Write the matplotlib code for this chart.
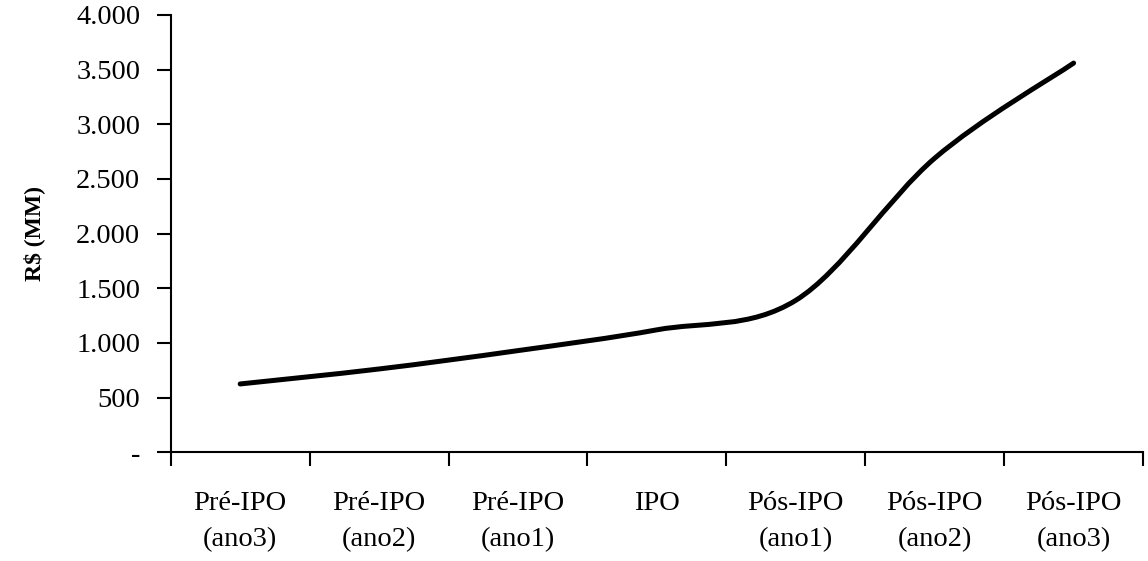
import matplotlib.pyplot as plt
import numpy as np
from matplotlib.path import Path
from matplotlib.patches import PathPatch
from matplotlib.ticker import FuncFormatter

periodos = ["Pré-IPO\n(ano3)", "Pré-IPO\n(ano2)", "Pré-IPO\n(ano1)", "IPO",
            "Pós-IPO\n(ano1)", "Pós-IPO\n(ano2)", "Pós-IPO\n(ano3)"]
valores = [625, 762, 930, 1120, 1390, 2690, 3560]
y_ticks = [0, 500, 1000, 1500, 2000, 2500, 3000, 3500, 4000]

plt.rcParams['font.family'] = ['Liberation Serif', 'DejaVu Serif']


def smooth_path(x, y, t=1 / 6):
    # cubic Bezier through the points, control points from neighbour slopes
    pts = np.column_stack([x, y]).astype(float)
    verts = [pts[0]]
    codes = [Path.MOVETO]
    n = len(pts)
    for i in range(n - 1):
        p0 = pts[i - 1] if i > 0 else pts[i]
        p1 = pts[i]
        p2 = pts[i + 1]
        p3 = pts[i + 2] if i + 2 < n else pts[i + 1]
        c1 = p1 + (p2 - p0) * t
        c2 = p2 - (p3 - p1) * t
        verts += [c1, c2, p2]
        codes += [Path.CURVE4] * 3
    return Path(verts, codes)


fig = plt.figure(figsize=(11.48, 5.61), dpi=100)
ax = fig.add_axes([0.1487, 0.1938, 0.8470, 0.7795])

x = np.arange(len(periodos))
ax.add_patch(PathPatch(smooth_path(x, valores), facecolor='none',
                       edgecolor='black', linewidth=3.6, capstyle='round'))

ax.set_xlim(-0.5, len(periodos) - 0.5)
ax.set_ylim(0, 4000)

ax.set_yticks(y_ticks)
ax.yaxis.set_major_formatter(FuncFormatter(
    lambda v, _: "-" if v == 0 else f"{int(v):,}".replace(",", ".")))

ax.set_xticks(x)
ax.set_xticklabels(periodos, linespacing=1.55)
ax.set_xticks(np.arange(len(periodos) + 1) - 0.5, minor=True)
ax.tick_params(axis='x', which='major', length=0, pad=28, labelsize=20.5)
ax.tick_params(axis='x', which='minor', length=10, width=1.5, direction='out')
ax.tick_params(axis='y', length=10, width=1.5, pad=12, labelsize=20.5)

for s in ['top', 'right']:
    ax.spines[s].set_visible(False)
for s in ['left', 'bottom']:
    ax.spines[s].set_linewidth(1.5)

ax.set_ylabel("R$ (MM)", fontsize=17, fontweight='bold', labelpad=22)

fig.savefig("out.png", dpi=100)
